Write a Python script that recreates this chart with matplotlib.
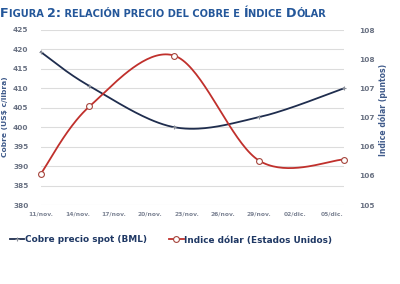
import numpy as np
import matplotlib
matplotlib.use("Agg")
import matplotlib.pyplot as plt
from matplotlib.lines import Line2D

# ---- data ----
tick_labels = ["11/nov.", "14/nov.", "17/nov.", "20/nov.", "23/nov.",
               "26/nov.", "29/nov.", "02/dic.", "05/dic."]
tick_days = [0, 3, 6, 9, 12, 15, 18, 21, 24]          # days after 11/nov
obs_days = [0, 4, 11, 18, 25]                          # observation dates
copper = [419.3, 410.6, 400.0, 402.6, 410.0]           # US$ c/libra
dollar = [105.54, 106.69, 107.56, 105.76, 105.78]      # puntos
left_ticks = [380, 385, 390, 395, 400, 405, 410, 415, 420, 425]
right_ticks = [105.0, 105.5, 106.0, 106.5, 107.0, 107.5, 108.0]
right_labels = ["105", "106", "106", "107", "107", "108", "108"]

NAVY = "#1f2d4e"
RED = "#c0302c"
TICK_C = "#6a7283"


def smooth(xs, ys, n=40):
    """Excel-like smoothed line (Catmull-Rom Bezier through the data points)."""
    P = np.column_stack([xs, ys]).astype(float)
    out = []
    for i in range(len(P) - 1):
        p0 = P[max(i - 1, 0)]
        p1 = P[i]
        p2 = P[i + 1]
        p3 = P[min(i + 2, len(P) - 1)]
        c1 = p1 + (p2 - p0) / 6.0
        c2 = p2 - (p3 - p1) / 6.0
        t = np.linspace(0, 1, n)[:, None]
        seg = ((1 - t) ** 3) * p1 + 3 * ((1 - t) ** 2) * t * c1 + 3 * (1 - t) * t ** 2 * c2 + t ** 3 * p2
        out.append(seg if i == 0 else seg[1:])
    S = np.vstack(out)
    return S[:, 0], S[:, 1]


fig = plt.figure(figsize=(4.0, 2.84), dpi=100)
ax = fig.add_axes([41 / 400, 1 - 205 / 284, (344 - 41) / 400, 175 / 284])
ax2 = ax.twinx()

# grid
ax.set_ylim(380, 425)
ax.set_yticks(left_ticks)
ax.grid(axis="y", color="#dcdcdc", linewidth=0.8)
ax.set_axisbelow(True)
for sp in ax.spines.values():
    sp.set_visible(False)
for sp in ax2.spines.values():
    sp.set_visible(False)

ax.set_xlim(0, 25)
ax.set_xticks(tick_days)
ax.set_xticklabels(tick_labels)
ax.tick_params(axis="x", length=0, pad=5, labelsize=4.3, labelcolor="#7d8494")
ax.tick_params(axis="y", length=0, pad=9, labelsize=5.3, labelcolor=TICK_C)
for lb in ax.get_yticklabels():
    lb.set_fontweight("bold")
for lb in ax.get_xticklabels():
    lb.set_fontweight("bold")

ax2.set_ylim(105, 108)
ax2.set_yticks(right_ticks)
ax2.set_yticklabels(right_labels)
ax2.tick_params(axis="y", length=0, pad=11, labelsize=5.3, labelcolor=TICK_C)
for lb in ax2.get_yticklabels():
    lb.set_fontweight("bold")

# lines
sx, sy = smooth(obs_days, copper)
ax.plot(sx, sy, color=NAVY, lw=1.3, zorder=3, clip_on=False)
ax.plot(obs_days, copper, ls="none", marker="+", ms=3, mew=0.8, color="#8a8f99",
        zorder=4, clip_on=False)

dx, dy = smooth(obs_days, dollar)
ax2.plot(dx, dy, color=RED, lw=1.3, zorder=3, clip_on=False)
ax2.plot(obs_days, dollar, ls="none", marker="o", ms=4.2, mew=0.8,
         mfc="white", mec="#a5453c", zorder=4, clip_on=False)

# axis titles
fig.text(5 / 400, 1 - 117 / 284, "Cobre (US$ c/libra)", rotation=90, ha="center",
         va="center", fontsize=5.4, fontweight="bold", color="#3f5a8a")
fig.text(383 / 400, 1 - 110 / 284, "Indice dólar (puntos)", rotation=90, ha="center",
         va="center", fontsize=5.6, fontweight="bold", color="#3f5a8a")

# legend
handles = [
    Line2D([], [], color=NAVY, lw=1.3, marker="+", ms=3, mec="#8a8f99", mew=0.8),
    Line2D([], [], color=RED, lw=1.3, marker="o", ms=4.2, mfc="white", mec="#a5453c", mew=0.8),
]
leg = fig.legend(handles, ["Cobre precio spot (BML)", "Indice dólar (Estados Unidos)"],
                 loc="center left", bbox_to_anchor=(10 / 400, 1 - 240 / 284), ncol=2,
                 frameon=False, handlelength=1.6, handletextpad=0.1, columnspacing=2.5,
                 prop={"size": 6.4, "weight": "bold"}, borderaxespad=0, borderpad=0)
for t in leg.get_texts():
    t.set_color("#1f3864")

# title in small caps
title = "Figura 2: relación precio del cobre e Índice Dólar"
renderer = fig.canvas.get_renderer()
x = 0.0
y = 1 - 17 / 284
runs = []
for ch in title:
    small = ch.islower() or ch == " "
    if runs and runs[-1][1] == small:
        runs[-1][0] += ch
    else:
        runs.append([ch, small])
for txt, small in runs:
    t = fig.text(x, y, txt.upper(), fontsize=7.1 if small else 9.2, fontweight="bold",
                 color="#24579a", ha="left", va="baseline")
    bb = t.get_window_extent(renderer)
    x += bb.width / fig.bbox.width

fig.savefig("out.png", dpi=100)
